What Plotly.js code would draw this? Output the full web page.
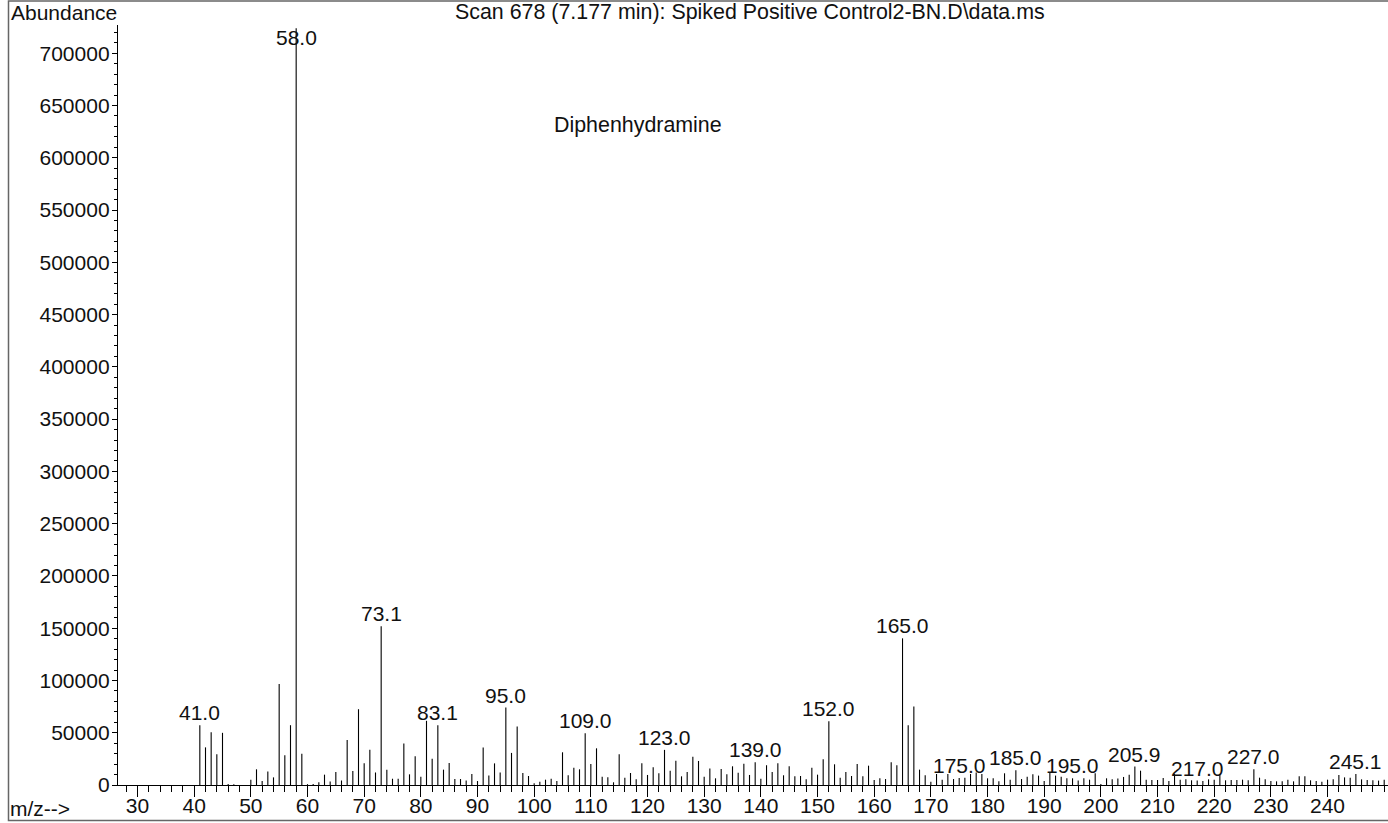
<!DOCTYPE html>
<html>
<head>
<meta charset="utf-8">
<script src="https://cdn.plot.ly/plotly-3.0.1.min.js"></script>
<style>html,body{margin:0;padding:0;background:#fff;}#chart{width:1388px;height:823px;}</style>
</head>
<body>
<div id="chart"></div>
<script>
// m/z values (integer masses) and abundances
var mz = [41,42,43,44,45,46,47,50,51,52,53,54,55,56,57,58,59,60,61,62,63,64,65,66,67,68,69,70,
  71,72,73,74,75,76,77,78,79,80,81,82,83,84,85,86,87,88,89,90,91,92,93,94,95,96,97,98,99,100,
  101,102,103,104,105,106,107,108,109,110,111,112,113,114,115,116,117,118,119,120,
  121,122,123,124,125,126,127,128,129,130,131,132,133,134,135,136,137,138,139,140,
  141,142,143,144,145,146,147,148,149,150,151,152,153,154,155,156,157,158,159,160,
  161,162,163,164,165,166,167,168,169,170,171,172,173,174,175,176,177,178,179,180,
  181,182,183,184,185,186,187,188,189,190,191,192,193,194,195,196,197,198,199,200,
  201,202,203,204,205,206,207,208,209,210,211,212,213,214,215,216,217,218,219,220,
  221,222,223,224,225,226,227,228,229,230,231,232,233,234,235,236,237,238,239,240,
  241,242,243,244,245,246,247,248,249,250];
var abundance = [57200,36000,50500,29400,49900,1000,800,5000,15000,3800,12800,7300,96500,28400,57200,724000,30000,800,1000,2700,9900,3400,12500,4300,43000,13400,72500,20700,
  33800,12000,151800,14700,6000,6000,39600,10200,27500,8000,61400,25200,57200,14700,21100,5700,5700,4200,10500,3800,35800,9000,20700,12000,74100,30700,55900,11500,8600,1600,
  3200,5100,6000,3800,31300,9300,16600,15000,49500,20000,35100,8000,7300,2600,29400,7000,11500,5400,20700,9600,
  16900,11200,33600,13700,23300,8300,12500,27100,23000,8000,15700,6400,15300,10200,17900,11800,20400,9600,21700,6000,
  18900,12500,20700,9300,17900,8300,8600,5400,16600,9900,24600,61000,19800,7000,12500,8600,20100,8300,18500,4800,
  6400,5700,21700,18900,140300,57200,75100,14700,9300,3200,10500,5000,10500,5700,6700,7000,10500,12000,10500,6400,
  6400,3500,11200,5100,14000,5700,8000,10200,9000,3800,11500,9000,8000,6400,6400,4200,6400,5100,11200,1000,
  6400,5400,6100,7700,9900,17600,13700,5100,4800,4800,6700,3800,10900,5100,5400,4500,4200,3800,5400,5100,
  10200,4500,4800,4800,5100,4500,15000,7000,5400,3800,3500,3500,5100,3500,8300,8300,4500,3800,3200,5100,
  5400,9600,7300,7000,10500,5400,4800,4500,4200,5100];

// labelled peaks
var peakMz = [41,58,73,83,95,109,123,139,152,165,175,185,195,206,217,227,245];
var peakLabels = ["41.0","58.0","73.1","83.1","95.0","109.0","123.0","139.0","152.0","165.0",
  "175.0","185.0","195.0","205.9","217.0","227.0","245.1"];

var xTicks = [30,40,50,60,70,80,90,100,110,120,130,140,150,160,170,180,190,200,210,220,230,240];
var yTicks = [0,50000,100000,150000,200000,250000,300000,350000,400000,450000,500000,550000,600000,650000,700000];

var titleText = "Scan 678 (7.177 min): Spiked Positive Control2-BN.D\\data.ms";
var compoundText = "Diphenhydramine";

// build stick segments from the arrays
var sx = [], sy = [];
for (var i = 0; i < mz.length; i++) {
  sx.push(mz[i], mz[i], null);
  sy.push(0, abundance[i], null);
}

var FONT = "Liberation Sans, Arial, Helvetica, sans-serif";
var trace = {
  x: sx, y: sy, type: "scatter", mode: "lines",
  line: {color: "#000", width: 1.1},
  hoverinfo: "skip", showlegend: false, cliponaxis: false
};

var annotations = [];
for (var k = 0; k < peakMz.length; k++) {
  var idx = mz.indexOf(peakMz[k]);
  var val = abundance[idx];
  var isBase = val > 600000;
  annotations.push({
    x: peakMz[k], y: val, xref: "x", yref: "y", text: peakLabels[k], showarrow: false,
    xanchor: "center", yanchor: isBase ? "top" : "bottom", yshift: isBase ? 4 : -1,
    font: {family: FONT, size: 21, color: "#111"}
  });
}
annotations.push({xref: "paper", yref: "paper", x: (750 - 118) / 1270, y: 1.0171, text: titleText, showarrow: false,
  xanchor: "center", yanchor: "middle", font: {family: FONT, size: 21.4, color: "#111"}});
annotations.push({xref: "paper", yref: "paper", x: (9 - 118) / 1270, y: 1.0171, text: "Abundance", showarrow: false,
  xanchor: "left", yanchor: "middle", font: {family: FONT, size: 21, color: "#111"}});
annotations.push({xref: "paper", yref: "paper", x: (8 - 118) / 1270, y: -0.0303, text: "m/z-->", showarrow: false,
  xanchor: "left", yanchor: "middle", font: {family: FONT, size: 21, color: "#111"}});
annotations.push({xref: "paper", yref: "paper", x: (638 - 118) / 1270, y: 0.8684, text: compoundText, showarrow: false,
  xanchor: "center", yanchor: "middle", font: {family: FONT, size: 21.4, color: "#111"}});

var layout = {
  width: 1388, height: 823,
  margin: {l: 118, r: 0, t: 25, b: 38, pad: 0},
  paper_bgcolor: "#fff", plot_bgcolor: "#fff",
  font: {family: FONT, size: 21, color: "#111"},
  showlegend: false,
  xaxis: {
    range: [26.56, 250.67], tickmode: "array", tickvals: xTicks, ticktext: xTicks.map(String),
    ticks: "outside", ticklen: 11, tickwidth: 1.2, tickcolor: "#000", ticklabelstandoff: -9,
    minor: {dtick: 2, tick0: 0, ticks: "outside", ticklen: 6, tickwidth: 1, tickcolor: "#000", showgrid: false},
    showline: true, linecolor: "#000", linewidth: 1.2, showgrid: false, zeroline: false,
    tickfont: {family: FONT, size: 21, color: "#111"}, fixedrange: true
  },
  yaxis: {
    range: [0, 727000], tickmode: "array", tickvals: yTicks, ticktext: yTicks.map(String),
    ticks: "outside", ticklen: 5, tickwidth: 1, tickcolor: "#000", ticklabelstandoff: -2,
    minor: {dtick: 10000, tick0: 0, ticks: "outside", ticklen: 3, tickwidth: 1, tickcolor: "#000", showgrid: false},
    showline: true, linecolor: "#000", linewidth: 1.2, showgrid: false, zeroline: false,
    tickfont: {family: FONT, size: 21, color: "#111"}, fixedrange: true
  },
  annotations: annotations,
  shapes: [{
    type: "rect", xref: "paper", yref: "paper",
    x0: (8.5 - 118) / 1270, x1: 1.02, y0: -0.0467, y1: 1.0316,
    line: {color: "#666", width: 1.5}, fillcolor: "rgba(0,0,0,0)", layer: "below"
  }]
};

Plotly.newPlot("chart", [trace], layout, {displayModeBar: false, staticPlot: true});
</script>
</body>
</html>
